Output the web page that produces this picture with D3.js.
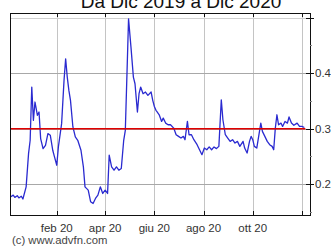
<!DOCTYPE html>
<html>
<head>
<meta charset="utf-8">
<script src="https://cdn.jsdelivr.net/npm/d3@7"></script>
<style>
  body { margin: 0; background: #fff; }
  svg { display: block; font-family: "Liberation Sans", Arial, sans-serif; }
</style>
</head>
<body>
<svg></svg>
<script>
//Data
var dates = ["2019-12-06","2019-12-09","2019-12-11","2019-12-14","2019-12-16","2019-12-19","2019-12-21","2019-12-25","2019-12-28","2019-12-30",
  "2020-01-01","2020-01-03","2020-01-05","2020-01-08","2020-01-10","2020-01-12","2020-01-15","2020-01-18","2020-01-21","2020-01-24","2020-01-27","2020-01-29",
  "2020-02-01","2020-02-03","2020-02-07","2020-02-10","2020-02-12","2020-02-14","2020-02-16","2020-02-18","2020-02-21","2020-02-24","2020-02-27",
  "2020-03-02","2020-03-05","2020-03-07","2020-03-11","2020-03-14","2020-03-17","2020-03-20","2020-03-23","2020-03-26","2020-03-29",
  "2020-04-01","2020-04-04","2020-04-06","2020-04-09","2020-04-12","2020-04-15","2020-04-18","2020-04-21","2020-04-24","2020-04-26","2020-04-29","2020-04-30",
  "2020-05-03","2020-05-06","2020-05-08","2020-05-11","2020-05-13","2020-05-15","2020-05-18","2020-05-21","2020-05-24","2020-05-28","2020-05-30",
  "2020-06-01","2020-06-03","2020-06-04","2020-06-07","2020-06-10","2020-06-12","2020-06-15","2020-06-18","2020-06-21","2020-06-25","2020-06-28",
  "2020-07-01","2020-07-04","2020-07-07","2020-07-09","2020-07-12","2020-07-14","2020-07-17","2020-07-20","2020-07-24","2020-07-27","2020-07-30",
  "2020-08-02","2020-08-05","2020-08-08","2020-08-11","2020-08-14","2020-08-17","2020-08-20","2020-08-23","2020-08-25","2020-08-28","2020-08-31",
  "2020-09-03","2020-09-06","2020-09-09","2020-09-12","2020-09-15","2020-09-19","2020-09-21","2020-09-24","2020-09-27","2020-09-29",
  "2020-10-01","2020-10-03","2020-10-06","2020-10-08","2020-10-11","2020-10-13","2020-10-16","2020-10-19","2020-10-22","2020-10-25","2020-10-27","2020-10-29","2020-10-31",
  "2020-11-02","2020-11-05","2020-11-07","2020-11-10","2020-11-13","2020-11-15","2020-11-18","2020-11-21","2020-11-25","2020-11-28",
  "2020-12-01","2020-12-04"];
var prices = [0.177,0.180,0.176,0.179,0.175,0.178,0.173,0.195,0.255,0.279,
  0.375,0.315,0.348,0.324,0.330,0.282,0.264,0.270,0.291,0.288,0.261,0.250,
  0.234,0.267,0.309,0.387,0.426,0.393,0.369,0.351,0.303,0.285,0.279,
  0.261,0.231,0.195,0.189,0.168,0.165,0.174,0.180,0.195,0.183,
  0.189,0.183,0.252,0.231,0.225,0.231,0.225,0.228,0.279,0.297,0.447,0.498,
  0.447,0.393,0.381,0.330,0.363,0.375,0.363,0.366,0.360,0.366,0.351,
  0.340,0.333,0.331,0.325,0.313,0.319,0.310,0.307,0.307,0.301,0.289,
  0.286,0.283,0.286,0.280,0.313,0.289,0.289,0.280,0.271,0.262,0.253,
  0.265,0.262,0.267,0.262,0.267,0.264,0.268,0.352,0.316,0.289,0.283,
  0.277,0.280,0.274,0.277,0.268,0.277,0.265,0.256,0.277,0.286,
  0.280,0.268,0.265,0.283,0.310,0.295,0.286,0.277,0.271,0.268,0.262,0.301,0.325,
  0.307,0.310,0.304,0.313,0.310,0.321,0.310,0.306,0.310,0.304,
  0.304,0.302];
var refPrice = 0.3;
var monthTicks = ["2020-02-01","2020-04-01","2020-06-01","2020-08-01","2020-10-01","2020-12-01"];
var monthLabels = ["feb 20","apr 20","giu 20","ago 20","ott 20",""];
var yTicks = [0.2, 0.3, 0.4, 0.5];
var yLabels = ["0.2", "0.3", "0.4", ""];
var yMinor = [0.15, 0.25, 0.35, 0.45];

//Set Dimensions of svg
var width = 331;
var height = 249;
var svg = d3.select('svg')
            .attr('width', width)
            .attr('height', height);

var parse = d3.timeParse("%Y-%m-%d");
var data = dates.map((d, i) => ({date: parse(d), value: prices[i]}));

//Scales
var x = d3.scaleTime()
          .domain([parse("2019-12-05"), parse("2020-12-11")])
          .range([10, 310]);
var y = d3.scaleLinear()
          .domain([0.1442, 0.5086])
          .range([215, 13]);

//Grid
svg.append("g")
   .selectAll("line")
   .data(monthTicks)
   .enter()
   .append("line")
   .attr("x1", d => Math.round(x(parse(d))) + 0.5)
   .attr("x2", d => Math.round(x(parse(d))) + 0.5)
   .attr("y1", 13)
   .attr("y2", 215)
   .attr("stroke", "#c4c4c4")
   .attr("stroke-width", 1);

svg.append("g")
   .selectAll("line")
   .data(yTicks)
   .enter()
   .append("line")
   .attr("x1", 10)
   .attr("x2", 310)
   .attr("y1", d => Math.round(y(d)) + 0.5)
   .attr("y2", d => Math.round(y(d)) + 0.5)
   .attr("stroke", d => d == 0.5 ? "#d0d0d0" : "#a8a8a8")
   .attr("stroke-width", 1);

//Price line
var line = d3.line()
             .x(d => x(d.date))
             .y(d => y(d.value));

svg.append("path")
   .datum(data)
   .attr("d", line)
   .attr("fill", "none")
   .attr("stroke", "#2a2ad0")
   .attr("stroke-width", 1.3)
   .attr("stroke-linejoin", "round");

//Reference line
svg.append("line")
   .attr("x1", 10)
   .attr("x2", x(data[data.length - 1].date) + 1)
   .attr("y1", y(refPrice))
   .attr("y2", y(refPrice))
   .attr("stroke", "#e00000")
   .attr("stroke-width", 1.5);

//Frame
svg.append("rect")
   .attr("x", 10.5)
   .attr("y", 13.5)
   .attr("width", 300)
   .attr("height", 202)
   .attr("fill", "none")
   .attr("stroke", "#111")
   .attr("stroke-width", 1);

//Month ticks top and bottom
var mt = svg.append("g");
monthTicks.forEach(function(d) {
  var px = Math.round(x(parse(d))) + 0.5;
  mt.append("line").attr("x1", px).attr("x2", px).attr("y1", 13).attr("y2", 17).attr("stroke", "#111");
  mt.append("line").attr("x1", px).attr("x2", px).attr("y1", 211).attr("y2", 215).attr("stroke", "#111");
});

//Right axis ticks
svg.append("g")
   .selectAll("line")
   .data(yTicks)
   .enter()
   .append("line")
   .attr("x1", 306)
   .attr("x2", 314)
   .attr("y1", d => Math.round(y(d)) + 0.5)
   .attr("y2", d => Math.round(y(d)) + 0.5)
   .attr("stroke", "#111");

svg.append("g")
   .selectAll("line")
   .data(yMinor)
   .enter()
   .append("line")
   .attr("x1", 310)
   .attr("x2", 312)
   .attr("y1", d => Math.round(y(d)) + 0.5)
   .attr("y2", d => Math.round(y(d)) + 0.5)
   .attr("stroke", "#888");

//Y labels
svg.append("g")
   .selectAll("text")
   .data(yTicks)
   .enter()
   .append("text")
   .attr("x", 315)
   .attr("y", d => y(d) + 4)
   .attr("font-size", "11.5px")
   .attr("fill", "#333")
   .text((d, i) => yLabels[i]);

//X labels
svg.append("g")
   .selectAll("text")
   .data(monthTicks)
   .enter()
   .append("text")
   .attr("x", d => x(parse(d)))
   .attr("y", 232)
   .attr("text-anchor", "middle")
   .attr("font-size", "11.5px")
   .attr("fill", "#333")
   .text((d, i) => monthLabels[i]);

//Title (cut off at top)
svg.append("text")
   .attr("x", 181)
   .attr("y", 7.5)
   .attr("text-anchor", "middle")
   .attr("font-size", "19px")
   .attr("fill", "#111")
   .text("Da Dic 2019 a Dic 2020");

//Credit
svg.append("text")
   .attr("x", 12)
   .attr("y", 244)
   .attr("font-size", "11.3px")
   .attr("fill", "#444")
   .text("(c) www.advfn.com");
</script>
</body>
</html>
